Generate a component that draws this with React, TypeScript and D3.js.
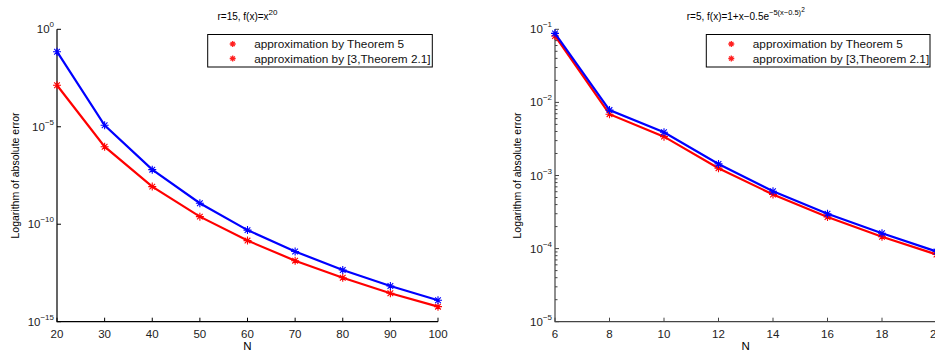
import React, { useRef, useEffect } from "react";
import { select, scaleLinear, scaleLog, line, path as d3path } from "d3";

// left panel: r=15, f(x)=x^20
const leftN = [20, 30, 40, 50, 60, 70, 80, 90, 100];
const leftBlue = [7.1e-2, 1.2e-5, 6.3e-8, 1.2e-9, 5.0e-11, 4.0e-12, 4.5e-13, 6.8e-14, 1.26e-14];
const leftRed = [1.35e-3, 9.5e-7, 8.5e-9, 2.45e-10, 1.45e-11, 1.35e-12, 1.8e-13, 2.9e-14, 5.9e-15];
const leftYTicks = [0, -5, -10, -15];
const leftXTicks = [20, 30, 40, 50, 60, 70, 80, 90, 100];

// right panel: r=5, f(x)=1+x-0.5e^{-5(x-0.5)^2}
const rightN = [6, 8, 10, 12, 14, 16, 18, 20];
const rightBlue = [0.088, 0.00785, 0.0039, 0.00144, 0.00061, 0.0003, 0.000162, 0.0000912];
const rightRed = [0.081, 0.0069, 0.0034, 0.00126, 0.00055, 0.00027, 0.000145, 0.000083];
const rightYTicks = [-1, -2, -3, -4, -5];
const rightXTicks = [6, 8, 10, 12, 14, 16, 18, 20];

const legendLabels = ["approximation by Theorem 5", "approximation by [3,Theorem 2.1]"];
const font = "'Liberation Sans', Arial, Helvetica, sans-serif";

// matlab style '*' marker
const star = (x: number, y: number, r: number) => {
    const p = d3path();
    for (let k = 0; k < 4; k++) {
        const a = (k * Math.PI) / 4;
        p.moveTo(x - r * Math.cos(a), y - r * Math.sin(a));
        p.lineTo(x + r * Math.cos(a), y + r * Math.sin(a));
    }
    return p.toString();
};

const drawPanel = (svg: any, o: any) => {
    const g = svg.append("g");
    const xScale = scaleLinear().domain(o.xDomain).range([o.left, o.right]);
    const yScale = scaleLog().domain(o.yDomain).range([o.bottom, o.top]);

    // title
    const t = g.append("text").attr("x", (o.left + o.right) / 2).attr("y", 20)
        .attr("text-anchor", "middle").attr("font-size", 10).attr("font-family", font);
    o.title(t);

    // y label
    g.append("text")
        .attr("transform", "translate(" + o.ylabX + "," + (o.top + o.bottom) / 2 + ") rotate(-90)")
        .attr("text-anchor", "middle").attr("font-size", 10.5).attr("font-family", font)
        .text("Logarithm of absolute error");

    // x label
    g.append("text").attr("x", (o.left + o.right) / 2).attr("y", 350)
        .attr("text-anchor", "middle").attr("font-size", 11.5).attr("font-family", font).text("N");

    // axes lines
    g.append("path")
        .attr("d", "M" + o.left + "," + o.top + "V" + o.bottom + "H" + o.right)
        .attr("fill", "none").attr("stroke", o.axisColor).attr("stroke-width", 1.2);

    // x ticks
    o.xTicks.forEach((v: number) => {
        g.append("line").attr("x1", xScale(v)).attr("x2", xScale(v))
            .attr("y1", o.bottom).attr("y2", o.bottom - 4).attr("stroke", o.axisColor);
        g.append("text").attr("x", xScale(v)).attr("y", 338).attr("text-anchor", "middle")
            .attr("font-size", 11.5).attr("font-family", font).attr("fill", "#222").text(v);
    });

    // y ticks
    o.yTicks.forEach((e: number) => {
        const y = yScale(Math.pow(10, e));
        g.append("line").attr("x1", o.left).attr("x2", o.left + 4)
            .attr("y1", y).attr("y2", y).attr("stroke", o.axisColor);
        const lab = g.append("text").attr("x", o.left - 3).attr("y", y + 4).attr("text-anchor", "end")
            .attr("font-family", font).attr("fill", "#222");
        lab.append("tspan").attr("font-size", 11.5).text("10");
        lab.append("tspan").attr("font-size", 8).attr("dy", -6).text(e === 0 ? "0" : "\u2212" + Math.abs(e));
    });
    if (o.minor) {
        for (let e = o.yTicks[o.yTicks.length - 1]; e < o.yTicks[0]; e++) {
            for (let m = 2; m < 10; m++) {
                const y = yScale(m * Math.pow(10, e));
                g.append("line").attr("x1", o.left).attr("x2", o.left + 2.5)
                    .attr("y1", y).attr("y2", y).attr("stroke", o.axisColor);
            }
        }
    }

    // series
    const myLine = line<number>()
        .x((d, i) => xScale(o.n[i]))
        .y((d) => yScale(d));
    const series = [
        { vals: o.red, color: "#ff0000" },
        { vals: o.blue, color: "#0000ff" }
    ];
    series.forEach((s) => {
        g.append("path").attr("d", myLine(s.vals)).attr("fill", "none")
            .attr("stroke", s.color).attr("stroke-width", 2.2);
        s.vals.forEach((v: number, i: number) => {
            g.append("path").attr("d", star(xScale(o.n[i]), yScale(v), 4))
                .attr("stroke", s.color).attr("stroke-width", 1.1).attr("fill", "none");
        });
    });

    // legend (both markers red, as in the original)
    g.append("rect").attr("x", o.legX).attr("y", 34.5).attr("width", o.legW).attr("height", 32.5)
        .attr("fill", "white").attr("stroke", "#000").attr("stroke-width", 1);
    legendLabels.forEach((lbl, i) => {
        const y = 44 + i * 14.5;
        g.append("path").attr("d", star(o.legX + 25, y, 3))
            .attr("stroke", "#ff2020").attr("stroke-width", 1.3).attr("fill", "none");
        g.append("text").attr("x", o.legX + 46.5).attr("y", y + 4)
            .attr("font-size", 11.8).attr("font-family", font).attr("fill", "#111").text(lbl);
    });
};

const App = () => {
    const svgRef = useRef(null);

    useEffect(() => {
        const svg = select(svgRef.current);
        svg.selectAll("*").remove();

        drawPanel(svg, {
            left: 57, right: 438, top: 29.3, bottom: 321.7,
            xDomain: [20, 100], yDomain: [1e-15, 1],
            xTicks: leftXTicks, yTicks: leftYTicks, minor: false,
            n: leftN, blue: leftBlue, red: leftRed,
            ylabX: 19, axisColor: "#000", legX: 207.7, legW: 224.6,
            title: (t: any) => {
                t.append("tspan").text("r=15, f(x)=x");
                t.append("tspan").attr("font-size", 8).attr("dy", -5).text("20");
            }
        });

        drawPanel(svg, {
            left: 555, right: 936.5, top: 29.3, bottom: 321.7,
            xDomain: [6, 20], yDomain: [1e-5, 1e-1],
            xTicks: rightXTicks, yTicks: rightYTicks, minor: true,
            n: rightN, blue: rightBlue, red: rightRed,
            ylabX: 521, axisColor: "#444", legX: 706.3, legW: 223.7,
            title: (t: any) => {
                t.append("tspan").text("r=5, f(x)=1+x\u22120.5e");
                t.append("tspan").attr("font-size", 7.5).attr("dy", -5).text("\u22125(x\u22120.5)");
                t.append("tspan").attr("font-size", 6.5).attr("dy", -3).text("2");
            }
        });
    }, []);

    return (
        <div>
            <svg ref={svgRef} width={935} height={352}
                style={{ position: "absolute", left: 0, top: 0, background: "white" }}>
            </svg>
        </div>
    );
};

export default App;
